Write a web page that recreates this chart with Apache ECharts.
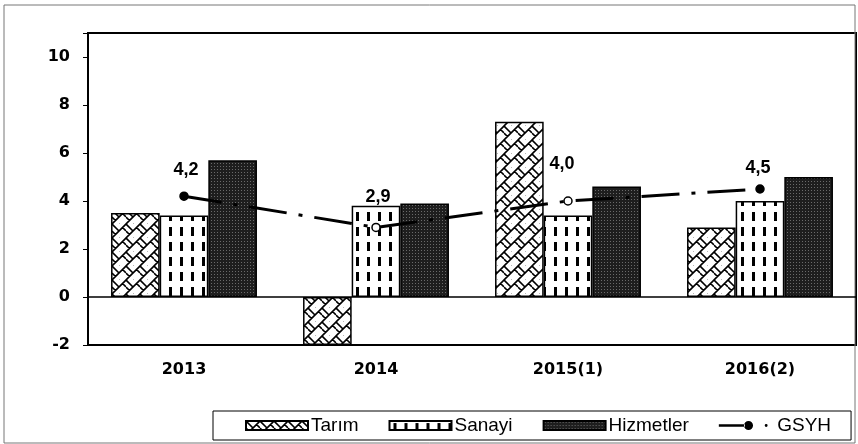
<!DOCTYPE html>
<html>
<head>
<meta charset="utf-8">
<script src="https://cdn.jsdelivr.net/npm/echarts@6/dist/echarts.min.js"></script>
<style>
  html, body { margin: 0; padding: 0; background: #fff; }
  #chart { width: 858px; height: 444px; }
</style>
</head>
<body>
<div id="chart"></div>
<script>
// values
var years = ['2013', '2014', '2015(1)', '2016(2)'];
var tarim = [3.5, -2.0, 7.3, 2.9];
var sanayi = [3.4, 3.8, 3.4, 4.0];
var hizmetler = [5.7, 3.9, 4.6, 5.0];
var gsyh = [4.2, 2.9, 4.0, 4.5];
var gsyhFilled = [true, false, false, true];

// hatch fills
function makePattern(w, h, draw) {
    var c = document.createElement('canvas');
    c.width = w; c.height = h;
    draw(c.getContext('2d'));
    return { image: c, repeat: 'repeat' };
}
var tarimFill = makePattern(14, 14, function (ctx) {
    ctx.fillStyle = '#fff'; ctx.fillRect(0, 0, 14, 14);
    ctx.strokeStyle = '#000'; ctx.lineWidth = 1.6;
    ctx.beginPath();
    ctx.moveTo(-1, 15); ctx.lineTo(15, -1);
    ctx.moveTo(-8, 8); ctx.lineTo(8, -8);
    ctx.moveTo(6, 22); ctx.lineTo(22, 6);
    ctx.moveTo(0, 0); ctx.lineTo(7, 7);
    ctx.moveTo(7, 14); ctx.lineTo(14, 21);
    ctx.moveTo(0, 7); ctx.lineTo(3.5, 10.5);
    ctx.moveTo(10.5, 3.5); ctx.lineTo(14, 7);
    ctx.stroke();
});
var sanayiFill = makePattern(11, 15, function (ctx) {
    ctx.fillStyle = '#fff'; ctx.fillRect(0, 0, 11, 15);
    ctx.fillStyle = '#000';
    ctx.fillRect(4, 2, 3, 9);
});
var hizmetFill = makePattern(3, 3, function (ctx) {
    ctx.fillStyle = '#1e1e1e'; ctx.fillRect(0, 0, 3, 3);
    ctx.fillStyle = '#6a6a6a'; ctx.fillRect(1, 1, 1, 1);
});

var labelOffsets = [[2, -12], [2, -17], [-6, -23], [-2, -7]];
var gsyhData = gsyh.map(function (v, i) {
    return {
        value: v,
        itemStyle: { color: gsyhFilled[i] ? '#000' : '#fff', borderColor: '#000', borderWidth: 1.5 },
        label: { offset: labelOffsets[i] }
    };
});

var lineIcon = 'path://M0,3.5 L29,3.5 L29,6.5 L0,6.5 Z M28,5 a5,5 0 1,0 10,0 a5,5 0 1,0 -10,0 Z M51,5 a1.6,1.6 0 1,0 3.2,0 a1.6,1.6 0 1,0 -3.2,0 Z';

var myChart = echarts.init(document.getElementById('chart'));
var barStyle = function (fill) {
    return { color: fill, borderColor: '#000', borderWidth: 1.5 };
};
var option = {
    animation: false,
    textStyle: { fontFamily: 'DejaVu Sans' },
    graphic: [{
        type: 'rect',
        shape: { x: 4, y: 5, width: 851, height: 438 },
        style: { fill: 'none', stroke: '#777', lineWidth: 1 },
        silent: true
    }],
    legend: {
        left: 213,
        top: 411,
        padding: [5, 20, 5, 32],
        borderColor: '#000',
        borderWidth: 1,
        itemWidth: 62,
        itemHeight: 9,
        itemGap: 30,
        textStyle: { fontFamily: 'Liberation Sans', fontSize: 19, color: '#000', padding: [0, 0, 0, -2] },
        data: [
            { name: 'Tarım', icon: 'rect' },
            { name: 'Sanayi', icon: 'rect' },
            { name: 'Hizmetler', icon: 'rect' },
            { name: 'GSYH', icon: lineIcon }
        ]
    },
    grid: {
        left: 88,
        top: 33,
        width: 768,
        bottom: 99,
        show: true,
        borderColor: '#000',
        borderWidth: 2
    },
    xAxis: [{
        type: 'category',
        data: years,
        axisLine: { show: false, onZero: false },
        axisTick: { show: false },
        axisLabel: { margin: 17, fontSize: 16, fontWeight: 'bold', color: '#000' }
    }, {
        type: 'category',
        data: years,
        position: 'bottom',
        axisLine: { onZero: true, lineStyle: { color: '#000', width: 1.5 } },
        axisTick: { inside: true, length: 5, lineStyle: { color: '#000' } },
        axisLabel: { show: false }
    }],
    yAxis: {
        type: 'value',
        min: -2,
        max: 11,
        interval: 2,
        splitLine: { show: false },
        axisLine: { show: true, lineStyle: { color: '#000', width: 1.5 } },
        axisTick: { show: true, length: 5, lineStyle: { color: '#000' } },
        axisLabel: {
            margin: 18, fontSize: 16, fontWeight: 'bold', color: '#000',
            formatter: function (v) { return v > 10 ? '' : v; }
        }
    },
    series: [
        {
            name: 'Tarım', type: 'bar', data: tarim,
            barGap: '0%', barCategoryGap: '24%',
            itemStyle: barStyle(tarimFill)
        },
        {
            name: 'Sanayi', type: 'bar', data: sanayi,
            itemStyle: barStyle(sanayiFill)
        },
        {
            name: 'Hizmetler', type: 'bar', data: hizmetler,
            itemStyle: barStyle(hizmetFill)
        },
        {
            name: 'GSYH', type: 'line', data: gsyhData,
            z: 5,
            symbol: 'circle',
            symbolSize: 8,
            lineStyle: { color: '#000', width: 3, type: [38, 12, 4, 12] },
            itemStyle: { color: '#000' },
            label: {
                show: true, position: 'top', distance: 0,
                fontFamily: 'Liberation Sans',
                fontSize: 18, fontWeight: 'bold', color: '#000',
                formatter: function (p) { return p.value.toFixed(1).replace('.', ','); }
            }
        }
    ]
};
myChart.setOption(option);
</script>
</body>
</html>
